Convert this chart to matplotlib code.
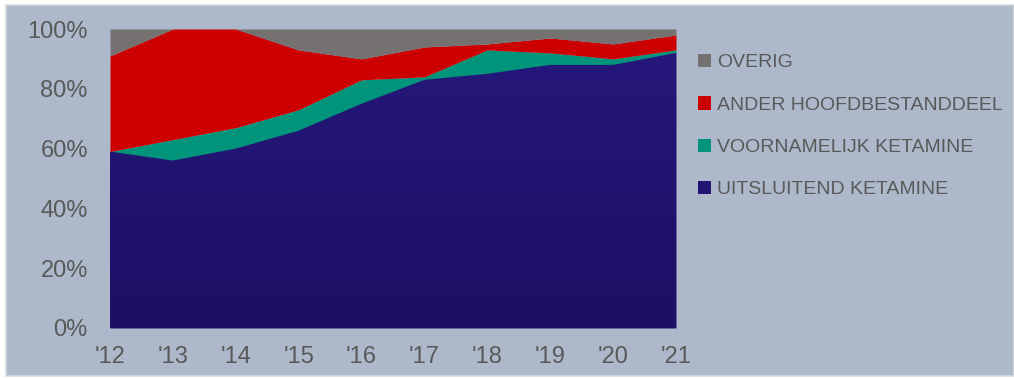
import numpy as np
import matplotlib
matplotlib.use("Agg")
import matplotlib.pyplot as plt
from matplotlib.patches import Rectangle, Patch
from matplotlib.colors import LinearSegmentedColormap
from matplotlib.ticker import FuncFormatter

# --- data (aandeel %, per jaar) ---
years = ["'12", "'13", "'14", "'15", "'16", "'17", "'18", "'19", "'20", "'21"]
uitsluitend = [59, 56, 60, 66, 75, 83, 85, 88, 88, 92]
voornamelijk = [0, 7, 7, 7, 8, 1, 8, 4, 2, 1]
ander = [32, 37, 33, 20, 7, 10, 2, 5, 5, 5]
overig = [9, 0, 0, 7, 10, 6, 5, 3, 5, 2]

labels = ["UITSLUITEND KETAMINE", "VOORNAMELIJK KETAMINE",
          "ANDER HOOFDBESTANDDEEL", "OVERIG"]
colors = ["#221472", "#00957a", "#cc0000", "#767171"]
BG = "#adb9ca"
TXT = "#595959"

plt.rcParams["font.family"] = ["Liberation Sans", "DejaVu Sans"]

fig = plt.figure(figsize=(10.14, 3.78), dpi=100, facecolor="white")
# achtergrondkader
fig.patches.append(Rectangle((6 / 1014, 2 / 378), 1 - 6 / 1014, 1 - 7 / 378,
                             transform=fig.transFigure, facecolor=BG,
                             edgecolor="#d6d9de", lw=1.2, zorder=-10))

ax = fig.add_axes([110 / 1014, 50 / 378, 566 / 1014, 299 / 378])
ax.set_facecolor(BG)

x = np.arange(len(years))
series = [uitsluitend, voornamelijk, ander, overig]
base = np.zeros(len(years))
polys = []
for vals, c in zip(series, colors):
    top = base + np.array(vals, dtype=float)
    p = ax.fill_between(x, base, top, color=c, lw=0, zorder=2)
    polys.append(p)
    base = top

# lichte verloop in het blauwe vlak
cmap = LinearSegmentedColormap.from_list("bl", ["#1d0f64", "#26187c"])
grad = np.linspace(0, 1, 256).reshape(-1, 1)
im = ax.imshow(grad, cmap=cmap, aspect="auto", origin="lower",
               extent=[x[0], x[-1], 0, 100], zorder=2.5)
im.set_clip_path(polys[0].get_paths()[0], transform=ax.transData)

ax.set_xlim(x[0], x[-1])
ax.set_ylim(0, 100)
ax.set_xticks(x)
ax.set_xticklabels(years)
ax.set_yticks(np.arange(0, 101, 20))
ax.yaxis.set_major_formatter(FuncFormatter(lambda v, _: f"{v:.0f}%"))
ax.tick_params(length=0, labelsize=17, colors=TXT)
ax.tick_params(axis="y", pad=16)
ax.tick_params(axis="x", pad=13)
for s in ax.spines.values():
    s.set_visible(False)

handles = [Patch(facecolor=c, edgecolor="none") for c in colors][::-1]
leg = fig.legend(handles, labels[::-1], loc="upper left",
                 bbox_to_anchor=(690 / 1014, 1 - 46 / 378), frameon=False,
                 fontsize=14, handlelength=0.68, handleheight=0.68,
                 handletextpad=0.3, labelspacing=1.28, borderaxespad=0)
for t in leg.get_texts():
    t.set_color(TXT)

fig.savefig("out.png", dpi=100, facecolor="white")
